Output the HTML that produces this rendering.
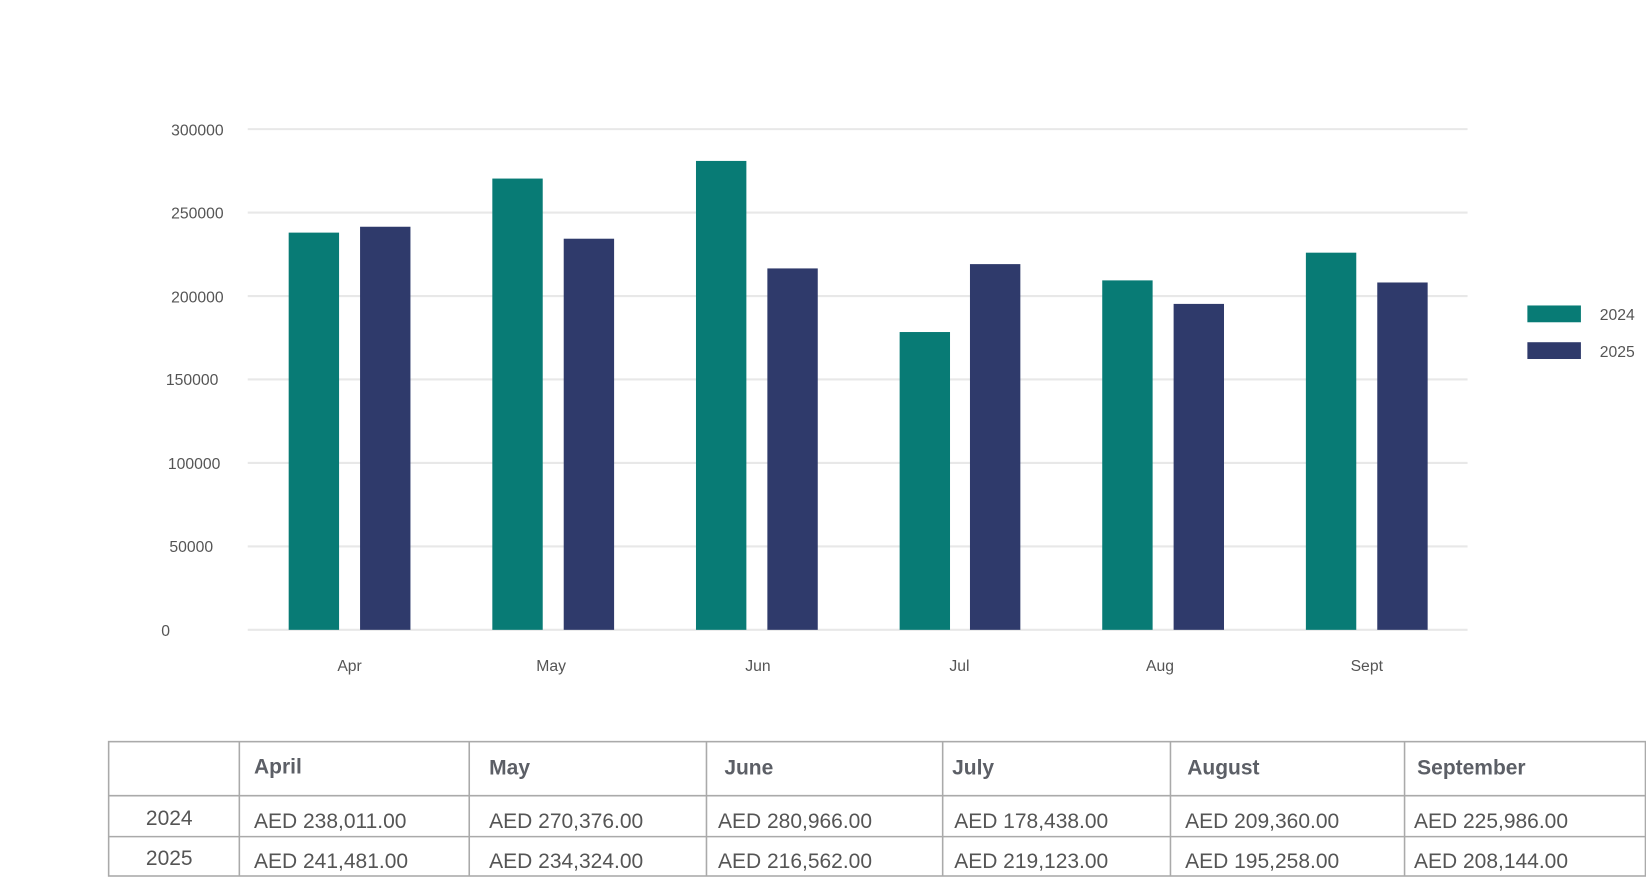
<!DOCTYPE html>
<html><head><meta charset="utf-8"><style>
html,body{margin:0;padding:0;background:#fff;width:1646px;height:878px;overflow:hidden}
svg{display:block;font-family:"Liberation Sans",sans-serif}
</style></head><body>
<svg width="1646" height="878" viewBox="0 0 1568 836.4" preserveAspectRatio="none">
<g stroke="#e8e8e8" stroke-width="2">
<line x1="236" x2="1398" y1="123" y2="123"/><line x1="236" x2="1398" y1="202.5" y2="202.5"/>
<line x1="236" x2="1398" y1="282" y2="282"/><line x1="236" x2="1398" y1="361.5" y2="361.5"/>
<line x1="236" x2="1398" y1="441" y2="441"/><line x1="236" x2="1398" y1="520.5" y2="520.5"/>
<line x1="236" x2="1398" y1="600" y2="600"/>
</g>
<g fill="#555" font-size="15" text-anchor="end">
<text x="213" y="129">300000</text><text x="213" y="208">250000</text><text x="213" y="288">200000</text>
<text x="208" y="367">150000</text><text x="210" y="447">100000</text><text x="203" y="526">50000</text>
<text x="162" y="606">0</text>
</g>
<g fill="#087b75">
<rect x="275" y="221.6" width="48" height="378.4"/><rect x="469" y="170.1" width="48" height="429.9"/>
<rect x="663" y="153.3" width="48" height="446.7"/><rect x="857" y="316.3" width="48" height="283.7"/>
<rect x="1050" y="267.1" width="48" height="332.9"/><rect x="1244" y="240.7" width="48" height="359.3"/>
</g>
<g fill="#2f3a6b">
<rect x="343" y="216" width="48" height="384"/><rect x="537" y="227.4" width="48" height="372.6"/>
<rect x="731" y="255.7" width="48" height="344.3"/><rect x="924" y="251.6" width="48" height="348.4"/>
<rect x="1118" y="289.5" width="48" height="310.5"/><rect x="1312" y="269.1" width="48" height="330.9"/>
</g>
<g fill="#555" font-size="15" text-anchor="middle">
<text x="333" y="639">Apr</text><text x="525" y="639">May</text><text x="722" y="639">Jun</text>
<text x="914" y="639">Jul</text><text x="1105" y="639">Aug</text><text x="1302" y="639">Sept</text>
</g>
<rect x="1455" y="291" width="51" height="16" fill="#087b75"/>
<rect x="1455" y="326" width="51" height="16" fill="#2f3a6b"/>
<g fill="#555" font-size="15"><text x="1524" y="305">2024</text><text x="1524" y="340">2025</text></g>
<g stroke="#aaa" stroke-width="1.5" fill="none">
<rect x="103.5" y="706.5" width="1464" height="128"/>
<line x1="103" x2="1568" y1="758" y2="758"/><line x1="103" x2="1568" y1="797" y2="797"/>
<line x1="228" x2="228" y1="706" y2="835"/><line x1="447" x2="447" y1="706" y2="835"/>
<line x1="673" x2="673" y1="706" y2="835"/><line x1="898" x2="898" y1="706" y2="835"/>
<line x1="1115" x2="1115" y1="706" y2="835"/><line x1="1338" x2="1338" y1="706" y2="835"/>
</g>
<g fill="#5c5f66" font-size="20" font-weight="bold">
<text x="242" y="737">April</text><text x="466" y="738">May</text><text x="690" y="738">June</text>
<text x="907" y="738">July</text><text x="1131" y="738">August</text><text x="1350" y="738">September</text>
</g>
<g fill="#555" font-size="20">
<text x="139" y="786">2024</text><text x="139" y="824">2025</text>
<text x="242" y="789">AED 238,011.00</text><text x="466" y="789">AED 270,376.00</text><text x="684" y="789">AED 280,966.00</text>
<text x="909" y="789">AED 178,438.00</text><text x="1129" y="789">AED 209,360.00</text><text x="1347" y="789">AED 225,986.00</text>
<text x="242" y="827">AED 241,481.00</text><text x="466" y="827">AED 234,324.00</text><text x="684" y="827">AED 216,562.00</text>
<text x="909" y="827">AED 219,123.00</text><text x="1129" y="827">AED 195,258.00</text><text x="1347" y="827">AED 208,144.00</text>
</g>
</svg>
</body></html>
